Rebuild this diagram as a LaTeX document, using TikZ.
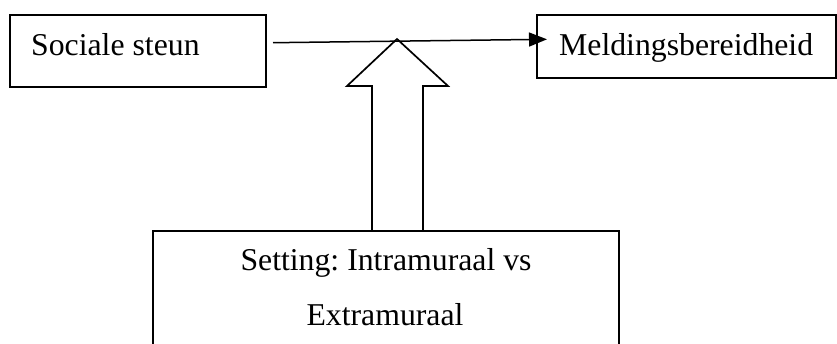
\documentclass[tikz,border=0pt]{standalone}
\usepackage{fontspec}
\setmainfont{Liberation Serif}
\usetikzlibrary{arrows.meta}
\frenchspacing
\begin{document}
\begin{tikzpicture}[x=1pt,y=-1pt,
  boxstyle/.style={draw, line width=2pt, rectangle, inner sep=0pt},
  lbl/.style={font=\fontsize{31.75}{38}\selectfont, inner sep=0pt},
  conn/.style={line width=1.5pt, -{Triangle[length=18pt,width=14pt]}},
  blockarrow/.style={draw, line width=1.7pt, line join=miter}]
\useasboundingbox (0,0) rectangle (837,343);
\node[boxstyle, minimum width=255.5pt, minimum height=72.6pt] (soc) at (137.75,51) {};
\node[boxstyle, minimum width=299pt, minimum height=63pt] (meld) at (686.5,46.3) {};
\node[boxstyle, minimum width=466pt, minimum height=200pt] (set) at (386,331) {};
\node[lbl, anchor=base west] (t1) at (31,55) {Sociale steun};
\node[lbl, anchor=base west] (t2) at (559,55) {Meldingsbereidheid};
\node[lbl, anchor=base] (t3) at (386,270.7) {Setting: Intramuraal vs};
\node[lbl, anchor=base] (t4) at (385,325.7) {Extramuraal};
\coordinate (s) at (273,42.7);
\coordinate (e) at (547,39.3);
\draw[conn] (s) -- (e);
\draw[blockarrow] (372,231) -- (372,86) -- (347,86) -- (397,39) -- (448,86) -- (423,86) -- (423,231);
\end{tikzpicture}
\end{document}
